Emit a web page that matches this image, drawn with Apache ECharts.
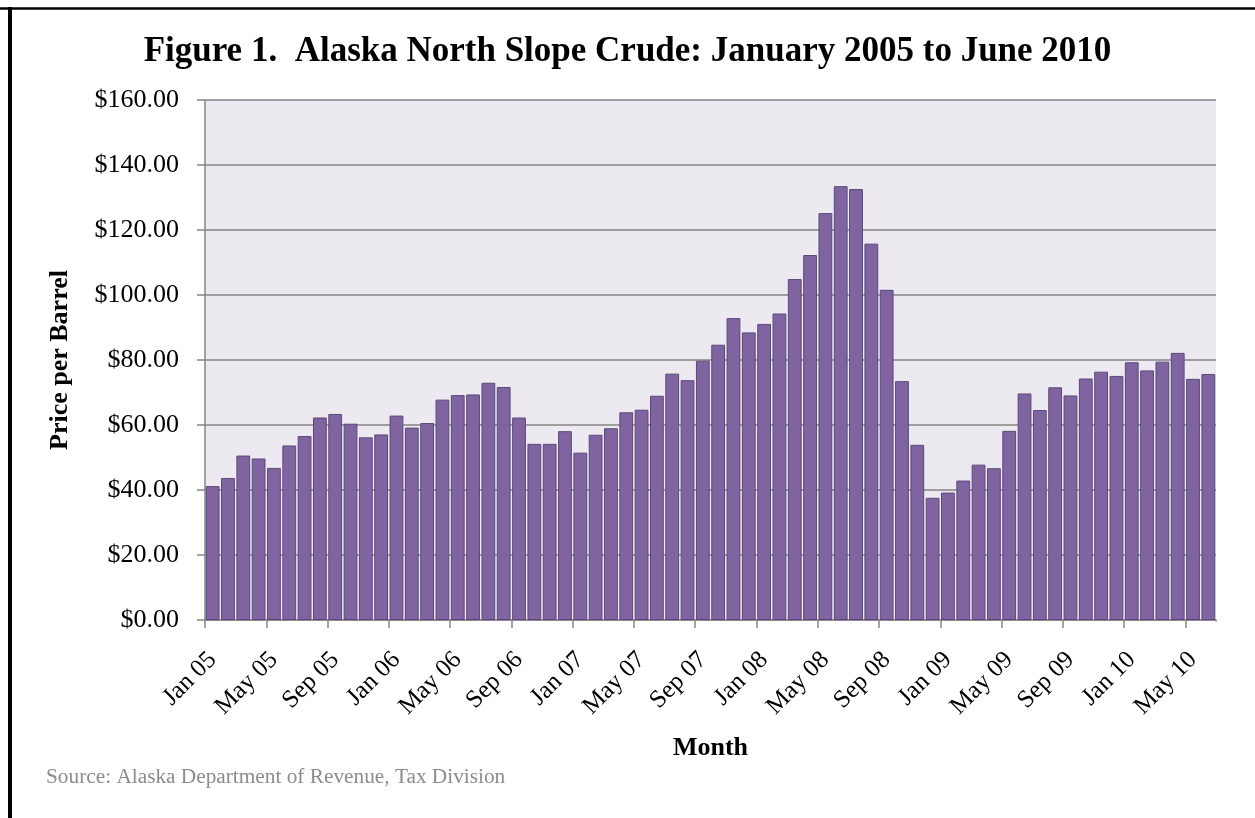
<!DOCTYPE html>
<html>
<head>
<meta charset="utf-8">
<script src="https://cdn.jsdelivr.net/npm/echarts@6/dist/echarts.min.js"></script>
<style>
html,body{margin:0;padding:0;background:#fff;}
#chart{width:1255px;height:818px;}
</style>
</head>
<body>
<div id="chart"></div>
<script>
var monthNames = ['Jan','Feb','Mar','Apr','May','Jun','Jul','Aug','Sep','Oct','Nov','Dec'];
var years = ['05','06','07','08','09','10'];
var lastYearMonths = 6;

var prices2005 = [41.2, 43.7, 50.6, 49.7, 46.8, 53.7, 56.6, 62.3, 63.4, 60.4, 56.2, 57.1];
var prices2006 = [62.9, 59.2, 60.6, 67.8, 69.2, 69.4, 73.0, 71.7, 62.3, 54.2, 54.2, 58.1];
var prices2007 = [51.5, 57.0, 59.0, 63.9, 64.7, 69.0, 75.8, 73.8, 79.8, 84.7, 92.9, 88.5];
var prices2008 = [91.1, 94.3, 104.9, 112.3, 125.2, 133.5, 132.6, 115.8, 101.6, 73.5, 53.9, 37.6];
var prices2009 = [39.2, 42.9, 47.8, 46.7, 58.2, 69.7, 64.6, 71.6, 69.1, 74.3, 76.4, 75.1];
var prices2010 = [79.3, 76.8, 79.5, 82.2, 74.2, 75.7];

var yTicks = [0, 20, 40, 60, 80, 100, 120, 140, 160];

var categories = [];
years.forEach(function (y, yi) {
  var n = (yi === years.length - 1) ? lastYearMonths : 12;
  for (var m = 0; m < n; m++) categories.push(monthNames[m] + ' ' + y);
});
var prices = [].concat(prices2005, prices2006, prices2007, prices2008, prices2009, prices2010);

var FONT = '"Liberation Serif", "Times New Roman", serif';
var chart = echarts.init(document.getElementById('chart'));
chart.setOption({
  animation: false,
  backgroundColor: '#ffffff',
  title: {
    text: 'Figure 1.  Alaska North Slope Crude: January 2005 to June 2010',
    left: 'center',
    top: 29,
    textStyle: { fontFamily: FONT, fontWeight: 'bold', fontSize: 35, color: '#000' }
  },
  grid: {
    left: 205, right: 39, top: 100, bottom: 198,
    show: true, backgroundColor: '#ECEAF0', borderWidth: 0
  },
  xAxis: {
    type: 'category',
    data: categories,
    name: 'Month',
    nameLocation: 'middle',
    nameGap: 115,
    nameTextStyle: { fontFamily: FONT, fontWeight: 'bold', fontSize: 26, color: '#000' },
    axisLine: { lineStyle: { color: '#858585', width: 1.5 } },
    axisTick: { show: true, interval: 3, length: 8, lineStyle: { color: '#858585', width: 1.5 } },
    axisLabel: { interval: 3, rotate: 45, margin: 36, fontFamily: FONT, fontSize: 25, color: '#000' },
    splitLine: { show: false }
  },
  yAxis: {
    type: 'value',
    min: yTicks[0],
    max: yTicks[yTicks.length - 1],
    interval: yTicks[1] - yTicks[0],
    name: 'Price per Barrel',
    nameLocation: 'middle',
    nameGap: 132,
    nameTextStyle: { fontFamily: FONT, fontWeight: 'bold', fontSize: 26, color: '#000' },
    axisLine: { show: true, lineStyle: { color: '#858585', width: 1.5 } },
    axisTick: { show: true, length: 8, lineStyle: { color: '#858585', width: 1.5 } },
    axisLabel: {
      margin: 26, fontFamily: FONT, fontSize: 26, color: '#000',
      formatter: function (v) { return '$' + v.toFixed(2); }
    },
    splitLine: { show: true, lineStyle: { color: '#848484', width: 1.5 } }
  },
  series: [{
    type: 'bar',
    data: prices,
    barCategoryGap: '10%',
    itemStyle: { color: '#8064A2', borderColor: '#5C4878', borderWidth: 1 }
  }],
  graphic: [
    { type: 'rect', z: 100, shape: { x: 1213, y: 621.5, width: 8, height: 10 }, style: { fill: '#ffffff' } },
    { type: 'line', shape: { x1: 0, y1: 8.5, x2: 1255, y2: 8.5 }, style: { stroke: '#000', lineWidth: 2.7 } },
    { type: 'line', shape: { x1: 10, y1: 7, x2: 10, y2: 818 }, style: { stroke: '#000', lineWidth: 4 } },
    { type: 'text', left: 46, top: 767, style: { text: 'Source: Alaska Department of Revenue, Tax Division', font: '21.3px "Liberation Serif", serif', fill: '#8C8C8C' } }
  ]
});
</script>
</body>
</html>
